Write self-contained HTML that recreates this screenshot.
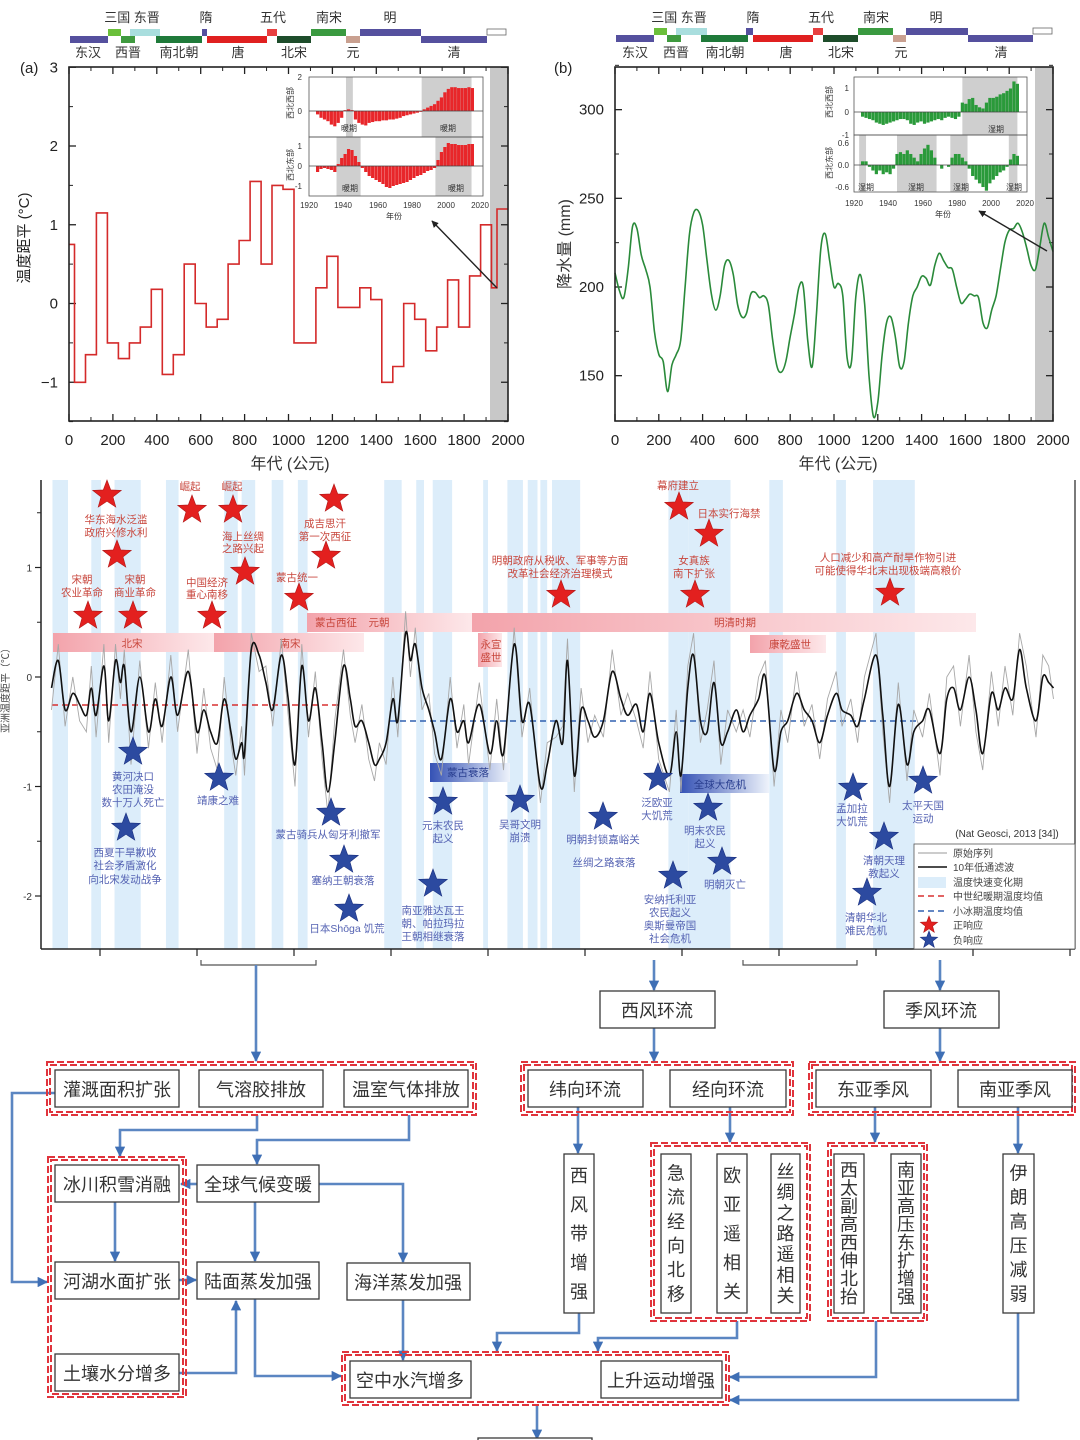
<!DOCTYPE html>
<html><head><meta charset="utf-8">
<style>
html,body{margin:0;padding:0;background:#fff;}
svg{display:block;font-family:"Liberation Sans","Noto Sans CJK SC",sans-serif;}
.tk{font-size:15px;fill:#222;}
.rl{font-size:10.5px;fill:#c8463c;}
.bl{font-size:10.5px;fill:#5563b3;}
.fb{fill:#fff;stroke:#3a3a3a;stroke-width:1.3;}
.ft{font-size:18px;fill:#333;}
.grp{fill:none;stroke:#e0343c;stroke-width:2;stroke-dasharray:7 3;}
.arr{fill:none;stroke:#5b86c2;stroke-width:2.6;}
</style></head>
<body>
<svg id="fig" width="1080" height="1440" viewBox="0 0 1080 1440">
<defs>
<marker id="ah" viewBox="0 0 10 10" refX="9" refY="5" markerWidth="4" markerHeight="4" orient="auto"><path d="M0,0 L10,5 L0,10 z" fill="#3f6fb5"/></marker>
<marker id="ak" viewBox="0 0 10 10" refX="9" refY="5" markerWidth="5" markerHeight="5" orient="auto"><path d="M0,0 L10,5 L0,10 z" fill="#222"/></marker>
<linearGradient id="pg" x1="0" x2="1"><stop offset="0" stop-color="#f3a3ab"/><stop offset="1" stop-color="#fde8ea"/></linearGradient>
<linearGradient id="bg" x1="0" x2="1"><stop offset="0" stop-color="#3552b5"/><stop offset="1" stop-color="#eef3fb"/></linearGradient>
</defs>

<!-- ===== Panel (a) ===== -->
<g id="panelA">
<g>
<rect x="70" y="36" width="38" height="7" fill="#55509e"/><rect x="108" y="29" width="13" height="7" fill="#6abf3a"/>
<rect x="121" y="36" width="14" height="7" fill="#3f9a3f"/><rect x="130" y="29" width="30" height="7" fill="#a9dede"/>
<rect x="156" y="36" width="46" height="7" fill="#1f7a3a"/><rect x="202" y="29" width="5" height="7" fill="#55509e"/>
<rect x="207" y="36" width="60" height="7" fill="#e02020"/><rect x="267" y="29" width="10" height="7" fill="#e84040"/>
<rect x="277" y="36" width="34" height="7" fill="#1e4d2b"/><rect x="311" y="29" width="35" height="7" fill="#3a9a40"/>
<rect x="346" y="36" width="14" height="7" fill="#c9a090"/><rect x="360" y="29" width="61" height="7" fill="#55509e"/>
<rect x="421" y="36" width="66" height="7" fill="#55509e"/><rect x="487" y="29" width="19" height="6" fill="#fff" stroke="#666" stroke-width="0.8"/>
<g font-size="13" fill="#333" text-anchor="middle">
<text x="132" y="22">三国 东晋</text><text x="206" y="22">隋</text><text x="273" y="22">五代</text><text x="329" y="22">南宋</text><text x="390" y="22">明</text>
<text x="88" y="57">东汉</text><text x="128" y="57">西晋</text><text x="179" y="57">南北朝</text><text x="238" y="57">唐</text><text x="294" y="57">北宋</text><text x="353" y="57">元</text><text x="454" y="57">清</text>
</g></g>
<text x="20" y="73" font-size="15" fill="#222">(a)</text>
<rect x="490" y="67" width="18" height="354" fill="#c8c8c8"/>
<g id="aTicks"></g>
<path id="aLine" fill="none" stroke="#d42a2a" stroke-width="1.6"/>
<rect x="69" y="67" width="439" height="354" fill="none" stroke="#222" stroke-width="1.6"/>
<text class="tk" x="0" y="0" transform="translate(29,238) rotate(-90)" text-anchor="middle" font-size="16">温度距平 (°C)</text>
<text x="290" y="469" font-size="16" fill="#333" text-anchor="middle">年代 (公元)</text>
<g id="insetA">
<rect x="309" y="77" width="174" height="119" fill="#fff"/>
<g id="iaBars"></g>
<rect x="309" y="77" width="174" height="60" fill="none" stroke="#555" stroke-width="0.8"/>
<rect x="309" y="137" width="174" height="59" fill="none" stroke="#555" stroke-width="0.8"/>
<g font-size="8" fill="#333">
<text x="302" y="80" text-anchor="end">2</text><text x="302" y="114" text-anchor="end">0</text>
<text x="302" y="149" text-anchor="end">1</text><text x="302" y="169" text-anchor="end">0</text><text x="302" y="189" text-anchor="end">-1</text>
<text x="309" y="208" text-anchor="middle">1920</text><text x="343" y="208" text-anchor="middle">1940</text><text x="378" y="208" text-anchor="middle">1960</text><text x="412" y="208" text-anchor="middle">1980</text><text x="446" y="208" text-anchor="middle">2000</text><text x="480" y="208" text-anchor="middle">2020</text>
<text x="394" y="219" text-anchor="middle">年份</text>
<text x="349" y="131" text-anchor="middle">暖期</text><text x="448" y="131" text-anchor="middle">暖期</text>
<text x="350" y="191" text-anchor="middle">暖期</text><text x="456" y="191" text-anchor="middle">暖期</text>
<text transform="translate(293,103) rotate(-90)" text-anchor="middle">西北西部</text>
<text transform="translate(293,165) rotate(-90)" text-anchor="middle">西北东部</text>
</g></g>
<line x1="497" y1="288" x2="432" y2="221" stroke="#222" stroke-width="1.4" marker-end="url(#ak)"/>
</g>

<!-- ===== Panel (b) ===== -->
<g id="panelB">
<g>
<rect x="616" y="35" width="38" height="7" fill="#55509e"/><rect x="654" y="28" width="13" height="7" fill="#6abf3a"/>
<rect x="667" y="35" width="14" height="7" fill="#3f9a3f"/><rect x="676" y="28" width="31" height="7" fill="#a9dede"/>
<rect x="701" y="35" width="47" height="7" fill="#1f7a3a"/><rect x="746" y="28" width="7" height="7" fill="#55509e"/>
<rect x="753" y="35" width="60" height="7" fill="#e02020"/><rect x="813" y="28" width="10" height="7" fill="#e84040"/>
<rect x="823" y="35" width="35" height="7" fill="#1e4d2b"/><rect x="858" y="28" width="35" height="7" fill="#3a9a40"/>
<rect x="893" y="35" width="13" height="7" fill="#c9a090"/><rect x="906" y="28" width="62" height="7" fill="#55509e"/>
<rect x="968" y="35" width="65" height="7" fill="#55509e"/><rect x="1033" y="28" width="19" height="6" fill="#fff" stroke="#666" stroke-width="0.8"/>
<g font-size="13" fill="#333" text-anchor="middle">
<text x="679" y="22">三国 东晋</text><text x="753" y="22">隋</text><text x="821" y="22">五代</text><text x="876" y="22">南宋</text><text x="936" y="22">明</text>
<text x="635" y="57">东汉</text><text x="676" y="57">西晋</text><text x="725" y="57">南北朝</text><text x="786" y="57">唐</text><text x="841" y="57">北宋</text><text x="901" y="57">元</text><text x="1001" y="57">清</text>
</g></g>
<text x="554" y="73" font-size="15" fill="#222">(b)</text>
<rect x="1035" y="67" width="18" height="354" fill="#c8c8c8"/>
<g id="bTicks"></g>
<path id="bLine" fill="none" stroke="#2a8a3a" stroke-width="1.6"/>
<rect x="615" y="67" width="438" height="354" fill="none" stroke="#222" stroke-width="1.6"/>
<text x="0" y="0" transform="translate(570,244) rotate(-90)" text-anchor="middle" font-size="16" fill="#333">降水量 (mm)</text>
<text x="838" y="469" font-size="16" fill="#333" text-anchor="middle">年代 (公元)</text>
<g id="insetB">
<rect x="854" y="77" width="173" height="115" fill="#fff"/>
<g id="ibBars"></g>
<rect x="854" y="77" width="173" height="58" fill="none" stroke="#555" stroke-width="0.8"/>
<rect x="854" y="135" width="173" height="57" fill="none" stroke="#555" stroke-width="0.8"/>
<g font-size="8" fill="#333">
<text x="849" y="91" text-anchor="end">1</text><text x="849" y="115" text-anchor="end">0</text><text x="849" y="138" text-anchor="end">-1</text>
<text x="849" y="146" text-anchor="end">0.6</text><text x="849" y="168" text-anchor="end">0.0</text><text x="849" y="190" text-anchor="end">-0.6</text>
<text x="854" y="206" text-anchor="middle">1920</text><text x="888" y="206" text-anchor="middle">1940</text><text x="923" y="206" text-anchor="middle">1960</text><text x="957" y="206" text-anchor="middle">1980</text><text x="991" y="206" text-anchor="middle">2000</text><text x="1025" y="206" text-anchor="middle">2020</text>
<text x="943" y="217" text-anchor="middle">年份</text>
<text x="996" y="132" text-anchor="middle">湿期</text>
<text x="866" y="190" text-anchor="middle">湿期</text><text x="916" y="190" text-anchor="middle">湿期</text><text x="961" y="190" text-anchor="middle">湿期</text><text x="1014" y="190" text-anchor="middle">湿期</text>
<text transform="translate(832,102) rotate(-90)" text-anchor="middle">西北西部</text>
<text transform="translate(832,163) rotate(-90)" text-anchor="middle">西北东部</text>
</g></g>
<line x1="1047" y1="251" x2="979" y2="211" stroke="#222" stroke-width="1.4" marker-end="url(#ak)"/>
</g>

<!-- ===== Middle panel ===== -->
<g id="panelC">
<g id="cBands"></g>
<g>
<rect x="53" y="633" width="161" height="19" fill="url(#pg)"/><text class="rl" x="132" y="647" text-anchor="middle">北宋</text>
<rect x="214" y="633" width="150" height="19" fill="url(#pg)"/><text class="rl" x="290" y="647" text-anchor="middle">南宋</text>
<rect x="307" y="613" width="165" height="19" fill="url(#pg)"/><text class="rl" x="336" y="626" text-anchor="middle">蒙古西征</text><text class="rl" x="379" y="626" text-anchor="middle">元朝</text>
<rect x="472" y="613" width="504" height="19" fill="url(#pg)"/><text class="rl" x="735" y="626" text-anchor="middle">明清时期</text>
<rect x="478" y="633" width="24" height="34" fill="url(#pg)"/><text class="rl" x="491" y="648" text-anchor="middle">永宣</text><text class="rl" x="491" y="661" text-anchor="middle">盛世</text>
<rect x="750" y="635" width="76" height="18" fill="url(#pg)"/><text class="rl" x="790" y="648" text-anchor="middle">康乾盛世</text>
<rect x="430" y="763" width="80" height="19" fill="url(#bg)"/><text x="468" y="776" font-size="10.5" fill="#2a3f90" text-anchor="middle">蒙古衰落</text>
<rect x="680" y="774" width="89" height="19" fill="url(#bg)"/><text x="720" y="788" font-size="10.5" fill="#2a3f90" text-anchor="middle">全球大危机</text>
</g>
<line x1="52" y1="705" x2="340" y2="705" stroke="#d83030" stroke-width="1.4" stroke-dasharray="6 4"/>
<line x1="390" y1="721" x2="916" y2="721" stroke="#3060b0" stroke-width="1.4" stroke-dasharray="6 4"/>
<path id="cRaw" fill="none" stroke="#a8a8a8" stroke-width="0.9"/>
<path id="cSmooth" fill="none" stroke="#111" stroke-width="1.6"/>
<g id="cAxes"></g>
<text x="0" y="0" transform="translate(9,688) rotate(-90)" font-size="10" fill="#444" text-anchor="middle">亚洲温度距平（℃）</text>
<g>
<text class="rl" x="116" y="523" text-anchor="middle">华东海水泛滥</text><text class="rl" x="116" y="536" text-anchor="middle">政府兴修水利</text>
<text class="rl" x="82" y="583" text-anchor="middle">宋朝</text><text class="rl" x="82" y="596" text-anchor="middle">农业革命</text>
<text class="rl" x="135" y="583" text-anchor="middle">宋朝</text><text class="rl" x="135" y="596" text-anchor="middle">商业革命</text>
<text class="rl" x="190" y="490" text-anchor="middle">崛起</text><text class="rl" x="232" y="490" text-anchor="middle">崛起</text>
<text class="rl" x="243" y="540" text-anchor="middle">海上丝绸</text><text class="rl" x="243" y="552" text-anchor="middle">之路兴起</text>
<text class="rl" x="207" y="586" text-anchor="middle">中国经济</text><text class="rl" x="207" y="598" text-anchor="middle">重心南移</text>
<text class="rl" x="325" y="527" text-anchor="middle">成吉思汗</text><text class="rl" x="325" y="540" text-anchor="middle">第一次西征</text>
<text class="rl" x="297" y="581" text-anchor="middle">蒙古统一</text>
<text class="rl" x="560" y="564" text-anchor="middle">明朝政府从税收、军事等方面</text><text class="rl" x="560" y="577" text-anchor="middle">改革社会经济治理模式</text>
<text class="rl" x="678" y="489" text-anchor="middle">幕府建立</text><text class="rl" x="729" y="517" text-anchor="middle">日本实行海禁</text>
<text class="rl" x="694" y="564" text-anchor="middle">女真族</text><text class="rl" x="694" y="577" text-anchor="middle">南下扩张</text>
<text class="rl" x="888" y="561" text-anchor="middle">人口减少和高产耐旱作物引进</text><text class="rl" x="888" y="574" text-anchor="middle">可能使得华北末出现极端高粮价</text>
</g>
<g>
<text class="bl" x="133" y="780" text-anchor="middle">黄河决口</text><text class="bl" x="133" y="793" text-anchor="middle">农田淹没</text><text class="bl" x="133" y="806" text-anchor="middle">数十万人死亡</text>
<text class="bl" x="125" y="856" text-anchor="middle">西夏干旱歉收</text><text class="bl" x="125" y="869" text-anchor="middle">社会矛盾激化</text><text class="bl" x="125" y="883" text-anchor="middle">向北宋发动战争</text>
<text class="bl" x="218" y="804" text-anchor="middle">靖康之难</text>
<text class="bl" x="328" y="838" text-anchor="middle">蒙古骑兵从匈牙利撤军</text>
<text class="bl" x="343" y="884" text-anchor="middle">塞纳王朝衰落</text>
<text class="bl" x="347" y="932" text-anchor="middle">日本Shōga 饥荒</text>
<text class="bl" x="443" y="829" text-anchor="middle">元末农民</text><text class="bl" x="443" y="842" text-anchor="middle">起义</text>
<text class="bl" x="433" y="914" text-anchor="middle">南亚雅达瓦王</text><text class="bl" x="433" y="927" text-anchor="middle">朝、帕拉玛拉</text><text class="bl" x="433" y="940" text-anchor="middle">王朝相继衰落</text>
<text class="bl" x="520" y="828" text-anchor="middle">吴哥文明</text><text class="bl" x="520" y="841" text-anchor="middle">崩溃</text>
<text class="bl" x="657" y="806" text-anchor="middle">泛欧亚</text><text class="bl" x="657" y="819" text-anchor="middle">大饥荒</text>
<text class="bl" x="603" y="843" text-anchor="middle">明朝封锁嘉峪关</text><text class="bl" x="604" y="866" text-anchor="middle">丝绸之路衰落</text>
<text class="bl" x="705" y="834" text-anchor="middle">明末农民</text><text class="bl" x="705" y="847" text-anchor="middle">起义</text>
<text class="bl" x="725" y="888" text-anchor="middle">明朝灭亡</text>
<text class="bl" x="670" y="903" text-anchor="middle">安纳托利亚</text><text class="bl" x="670" y="916" text-anchor="middle">农民起义</text><text class="bl" x="670" y="929" text-anchor="middle">奥斯曼帝国</text><text class="bl" x="670" y="942" text-anchor="middle">社会危机</text>
<text class="bl" x="852" y="812" text-anchor="middle">孟加拉</text><text class="bl" x="852" y="825" text-anchor="middle">大饥荒</text>
<text class="bl" x="884" y="864" text-anchor="middle">清朝天理</text><text class="bl" x="884" y="877" text-anchor="middle">教起义</text>
<text class="bl" x="866" y="921" text-anchor="middle">清朝华北</text><text class="bl" x="866" y="934" text-anchor="middle">难民危机</text>
<text class="bl" x="923" y="809" text-anchor="middle">太平天国</text><text class="bl" x="923" y="822" text-anchor="middle">运动</text>
</g>
<text x="1007" y="837" font-size="10" fill="#333" text-anchor="middle">(Nat Geosci, 2013 [34])</text>
<g>
<rect x="914" y="844" width="161" height="105" fill="#fff" stroke="#555" stroke-width="0.8"/>
<line x1="918" y1="853" x2="947" y2="853" stroke="#999" stroke-width="1"/><text x="953" y="857" font-size="10" fill="#444">原始序列</text>
<line x1="918" y1="867" x2="947" y2="867" stroke="#111" stroke-width="1.5"/><text x="953" y="871" font-size="10" fill="#444">10年低通滤波</text>
<rect x="918" y="877" width="28" height="11" fill="#dcedfa"/><text x="953" y="886" font-size="10" fill="#444">温度快速变化期</text>
<line x1="918" y1="896" x2="947" y2="896" stroke="#d83030" stroke-width="1.4" stroke-dasharray="6 4"/><text x="953" y="900" font-size="10" fill="#444">中世纪暖期温度均值</text>
<line x1="918" y1="911" x2="947" y2="911" stroke="#3060b0" stroke-width="1.4" stroke-dasharray="6 4"/><text x="953" y="915" font-size="10" fill="#444">小冰期温度均值</text>
<text x="953" y="929" font-size="10" fill="#444">正响应</text><text x="953" y="944" font-size="10" fill="#444">负响应</text>
</g>
<g id="stars"></g>
</g>

<!-- ===== Flowchart ===== -->
<g id="flow">
<path d="M201,960 V965 H316 V960" fill="none" stroke="#555" stroke-width="1.2"/>
<path d="M743,960 V965 H857 V960" fill="none" stroke="#555" stroke-width="1.2"/>
<g id="arrows">
<path class="arr" marker-end="url(#ah)" d="M256,965 V1061"/>
<path class="arr" marker-end="url(#ah)" d="M654,960 V990"/>
<path class="arr" marker-end="url(#ah)" d="M654,1028 V1061"/>
<path class="arr" marker-end="url(#ah)" d="M940,960 V990"/>
<path class="arr" marker-end="url(#ah)" d="M940,1028 V1061"/>
<path class="arr" marker-end="url(#ah)" d="M55,1093 H12 V1282 H47"/>
<path class="arr" marker-end="url(#ah)" d="M257,1115 V1130 H120 V1156"/>
<path class="arr" marker-end="url(#ah)" d="M409,1115 V1140 H257 V1164"/>
<path class="arr" marker-end="url(#ah)" d="M197,1184 H181"/>
<path class="arr" marker-end="url(#ah)" d="M319,1184 H403 V1262"/>
<path class="arr" marker-end="url(#ah)" d="M255,1202 V1261"/>
<path class="arr" marker-end="url(#ah)" d="M115,1202 V1261"/>
<path class="arr" marker-end="url(#ah)" d="M179,1280 H196"/>
<path class="arr" marker-end="url(#ah)" d="M179,1373 H236 V1301"/>
<path class="arr" marker-end="url(#ah)" d="M255,1299 V1376 H341"/>
<path class="arr" marker-end="url(#ah)" d="M403,1300 V1360"/>
<path class="arr" marker-end="url(#ah)" d="M578,1107 V1153"/>
<path class="arr" marker-end="url(#ah)" d="M730,1107 V1142"/>
<path class="arr" marker-end="url(#ah)" d="M875,1107 V1142"/>
<path class="arr" marker-end="url(#ah)" d="M1018,1107 V1153"/>
<path class="arr" marker-end="url(#ah)" d="M579,1313 V1333 H497 V1351"/>
<path class="arr" marker-end="url(#ah)" d="M737,1321 V1338 H598 V1351"/>
<path class="arr" marker-end="url(#ah)" d="M876,1321 V1377 H730"/>
<path class="arr" marker-end="url(#ah)" d="M1018,1313 V1400 H730"/>
<path class="arr" marker-end="url(#ah)" d="M537,1405 V1439"/>
</g>
<g>
<rect class="grp" x="47" y="1062" width="429" height="53"/><rect class="grp" x="50" y="1065" width="423" height="47"/>
<rect class="grp" x="521" y="1062" width="272" height="53"/><rect class="grp" x="524" y="1065" width="266" height="47"/>
<rect class="grp" x="809" y="1062" width="266" height="53"/><rect class="grp" x="812" y="1065" width="260" height="47"/>
<rect class="grp" x="48" y="1157" width="138" height="240"/><rect class="grp" x="51" y="1160" width="132" height="234"/>
<rect class="grp" x="651" y="1143" width="159" height="178"/><rect class="grp" x="654" y="1146" width="153" height="172"/>
<rect class="grp" x="828" y="1143" width="99" height="178"/><rect class="grp" x="831" y="1146" width="93" height="172"/>
<rect class="grp" x="342" y="1352" width="387" height="53"/><rect class="grp" x="345" y="1355" width="381" height="47"/>
</g>
<g>
<rect class="fb" x="600" y="991" width="115" height="37"/><text class="ft" x="657" y="1017" text-anchor="middle">西风环流</text>
<rect class="fb" x="884" y="991" width="115" height="37"/><text class="ft" x="941" y="1017" text-anchor="middle">季风环流</text>
<rect class="fb" x="55" y="1070" width="124" height="37"/><text class="ft" x="117" y="1096" text-anchor="middle">灌溉面积扩张</text>
<rect class="fb" x="199" y="1070" width="124" height="37"/><text class="ft" x="261" y="1096" text-anchor="middle">气溶胶排放</text>
<rect class="fb" x="344" y="1070" width="124" height="37"/><text class="ft" x="406" y="1096" text-anchor="middle">温室气体排放</text>
<rect class="fb" x="528" y="1070" width="115" height="37"/><text class="ft" x="585" y="1096" text-anchor="middle">纬向环流</text>
<rect class="fb" x="670" y="1070" width="116" height="37"/><text class="ft" x="728" y="1096" text-anchor="middle">经向环流</text>
<rect class="fb" x="816" y="1070" width="115" height="37"/><text class="ft" x="873" y="1096" text-anchor="middle">东亚季风</text>
<rect class="fb" x="958" y="1070" width="114" height="37"/><text class="ft" x="1015" y="1096" text-anchor="middle">南亚季风</text>
<rect class="fb" x="55" y="1165" width="124" height="37"/><text class="ft" x="117" y="1191" text-anchor="middle">冰川积雪消融</text>
<rect class="fb" x="197" y="1165" width="122" height="37"/><text class="ft" x="258" y="1191" text-anchor="middle">全球气候变暖</text>
<rect class="fb" x="55" y="1262" width="124" height="37"/><text class="ft" x="117" y="1288" text-anchor="middle">河湖水面扩张</text>
<rect class="fb" x="197" y="1262" width="122" height="37"/><text class="ft" x="258" y="1288" text-anchor="middle">陆面蒸发加强</text>
<rect class="fb" x="347" y="1263" width="123" height="37"/><text class="ft" x="408" y="1289" text-anchor="middle">海洋蒸发加强</text>
<rect class="fb" x="55" y="1354" width="124" height="37"/><text class="ft" x="117" y="1380" text-anchor="middle">土壤水分增多</text>
<rect class="fb" x="350" y="1361" width="121" height="37"/><text class="ft" x="410" y="1387" text-anchor="middle">空中水汽增多</text>
<rect class="fb" x="601" y="1361" width="121" height="37"/><text class="ft" x="661" y="1387" text-anchor="middle">上升运动增强</text>
<rect class="fb" x="478" y="1438" width="114" height="10"/>
</g>
<g id="vboxes"></g>
</g>
</svg>

<script>
// ---------- Data ----------
const aStepStarts = [0,25,75,125,175,225,275,325,375,425,475,525,575,625,675,725,775,825,875,925,975,1025,1125,1175,1225,1325,1375,1425,1475,1525,1575,1625,1675,1725,1775,1825,1875,1925,1950];
const aStepValues = [0.75,-1.0,-0.65,1.15,-0.5,-0.7,-0.5,-0.3,0.18,-0.9,-0.65,0.5,0,-0.3,-0.2,0.5,0.8,1.55,0.5,1.5,1.45,-0.5,0.2,0.6,-0.05,0.2,0.05,-1.0,-0.8,0,-0.2,-0.6,-0.3,0.3,-0.3,0.35,1.0,0.2,1.2];
const aXTicks = [0,200,400,600,800,1000,1200,1400,1600,1800,2000];
const aYTicks = [-1,0,1,2,3];

const bYears = [0,20,40,60,80,100,120,140,160,180,200,220,240,260,280,300,320,340,360,380,400,420,440,460,480,500,520,540,560,580,600,620,640,660,680,700,720,740,760,780,800,820,840,860,880,900,920,940,960,980,1000,1020,1040,1060,1080,1100,1120,1140,1160,1180,1200,1220,1240,1260,1280,1300,1320,1340,1360,1380,1400,1420,1440,1460,1480,1500,1520,1540,1560,1580,1600,1620,1640,1660,1680,1700,1720,1740,1760,1780,1800,1820,1840,1860,1880,1900,1920,1940,1960,1980,2000];
const bPrecip = [208,198,194,210,234,233,218,210,200,175,162,158,141,156,162,170,200,230,242,243,235,215,196,187,195,212,215,207,190,183,185,196,197,194,195,190,170,155,152,158,172,185,200,200,170,155,185,222,230,215,200,202,195,160,158,195,207,190,150,127,135,162,180,183,172,155,158,180,195,200,206,205,201,212,219,215,211,210,200,191,193,196,195,194,180,177,187,195,210,225,232,233,236,231,222,212,210,223,236,228,220];
const bYTicks = [150,200,250,300];
const bXTicks = [0,200,400,600,800,1000,1200,1400,1600,1800,2000];

const insetYears = [1925,1927,1929,1931,1933,1935,1937,1939,1941,1943,1945,1947,1949,1951,1953,1955,1957,1959,1961,1963,1965,1967,1969,1971,1973,1975,1977,1979,1981,1983,1985,1987,1989,1991,1993,1995,1997,1999,2001,2003,2005,2007,2009,2011,2013,2015];
const insetTempWest = [-0.2,-0.4,-0.5,-0.6,-0.8,-0.9,-0.7,-0.4,0.05,0.1,0.05,-0.5,-0.7,-0.8,-0.85,-0.7,-0.65,-0.6,-0.6,-0.55,-0.55,-0.5,-0.5,-0.45,-0.4,-0.3,-0.25,-0.2,-0.15,-0.1,-0.05,0.1,0.2,0.3,0.4,0.6,0.8,1.1,1.3,1.4,1.4,1.35,1.35,1.35,1.4,1.35];
const insetTempEast = [-0.3,-0.15,-0.1,-0.15,-0.2,-0.3,0.1,0.4,0.6,0.85,0.8,0.5,0.2,-0.1,-0.3,-0.5,-0.6,-0.7,-0.8,-0.9,-1.05,-1.1,-1.0,-0.95,-0.9,-0.85,-0.8,-0.7,-0.6,-0.5,-0.45,-0.35,-0.25,-0.2,-0.1,0.3,0.7,0.95,1.15,1.1,1.1,1.05,1.05,1.05,1.1,1.1];
const insetPrecipWest = [-0.2,-0.25,-0.3,-0.35,-0.45,-0.5,-0.55,-0.5,-0.45,-0.4,-0.35,-0.3,-0.3,-0.35,-0.5,-0.55,-0.45,-0.4,-0.5,-0.45,-0.4,-0.35,-0.3,-0.35,-0.25,-0.2,-0.25,-0.3,-0.2,0.4,0.35,0.55,0.6,0.3,0.2,0.15,0.4,0.6,0.6,0.65,0.75,0.8,0.9,1.0,1.3,1.2];
const insetPrecipEast = [0.1,0.1,-0.05,-0.15,-0.25,-0.15,-0.25,-0.2,-0.25,-0.1,0.3,0.35,0.3,0.4,0.3,0.2,0.1,0.3,0.45,0.55,0.4,0.2,0.0,-0.1,0.0,-0.05,0.2,0.3,0.3,0.2,0.1,-0.1,-0.3,-0.4,-0.5,-0.6,-0.7,-0.5,-0.4,-0.3,-0.2,-0.15,-0.05,0.15,0.3,0.25];

const cYears = [950,957,964,972,979,986,991,996,1004,1009,1016,1021,1025,1032,1041,1050,1057,1064,1073,1080,1091,1100,1107,1114,1121,1128,1135,1140,1146,1149,1156,1164,1171,1178,1187,1194,1201,1208,1215,1222,1229,1235,1242,1251,1258,1263,1270,1277,1283,1288,1295,1302,1307,1315,1320,1325,1332,1339,1345,1352,1361,1368,1375,1380,1391,1402,1409,1416,1427,1435,1443,1454,1461,1470,1477,1482,1489,1496,1503,1510,1519,1528,1537,1544,1553,1560,1567,1576,1587,1594,1599,1606,1612,1619,1626,1633,1640,1647,1656,1663,1670,1679,1686,1695,1702,1709,1718,1726,1734,1742,1750,1759,1765,1774,1781,1788,1800,1807,1814,1823,1832,1839,1848,1855,1866,1873,1880,1887,1896,1903,1910,1919,1926,1933,1941,1948,1955,1965,1972,1978,1983];
const cSmooth = [-0.1,0.15,-0.3,-0.15,-0.25,-0.35,-0.1,-0.35,0.1,-0.4,0.15,-0.05,0.1,-0.5,0,-0.5,-0.2,-0.45,0,-0.35,0.05,-0.5,-0.3,-0.5,-0.6,-0.2,-0.5,-0.75,-0.6,-0.7,0.25,0.2,-0.05,-0.3,0.2,-0.2,-0.8,0.1,-0.4,-0.1,-0.6,-1.05,-0.6,0.1,-0.2,-0.45,-0.4,-0.6,-0.8,-0.75,-0.6,-0.2,-0.4,0.4,0.15,0.3,-0.1,-0.3,-0.5,-0.75,-0.2,-0.5,-0.4,-0.6,-0.25,-0.7,-0.4,-0.7,0.3,-0.4,-0.25,-1.0,-0.8,-0.4,-0.6,0.15,-0.9,-0.3,-0.4,-0.55,-0.4,0.05,-0.2,-0.35,-0.25,-0.5,-0.15,-0.6,-0.9,-0.5,-0.9,-0.1,0.2,-0.4,-0.5,-0.05,-0.6,-0.5,-0.3,-0.5,-0.35,-0.2,0.0,-0.85,-0.5,-0.4,-0.15,-0.3,-0.4,-0.6,-0.35,-0.15,-0.3,-0.35,-0.45,-0.2,0.2,-0.35,-1.0,-0.25,-0.8,-0.5,-0.4,-0.3,-0.7,-0.2,-0.1,-0.3,0.0,-0.3,-0.7,-0.15,-0.3,-0.1,-0.2,0.25,-0.1,-0.4,0.0,-0.05,-0.1];
const cRaw = [-0.3,0.3,-0.45,0.0,-0.4,-0.5,0.1,-0.55,0.3,-0.6,0.3,-0.2,0.25,-0.8,0.15,-0.65,-0.05,-0.6,0.2,-0.5,0.25,-0.7,-0.1,-0.65,-0.85,0.0,-0.6,-0.9,-0.45,-0.9,0.4,0.05,0.1,-0.45,0.35,-0.35,-1.0,0.3,-0.55,0.05,-0.75,-1.25,-0.4,0.25,-0.35,-0.6,-0.25,-0.75,-0.95,-0.6,-0.8,0.0,-0.55,0.6,0.0,0.45,-0.3,-0.15,-0.7,-0.9,0.0,-0.65,-0.25,-0.8,-0.05,-0.85,-0.2,-0.85,0.45,-0.55,-0.1,-1.15,-0.6,-0.55,-0.45,0.35,-1.05,-0.1,-0.6,-0.35,-0.55,0.25,-0.35,-0.15,-0.4,-0.65,0.05,-0.75,-1.05,-0.3,-1.05,0.1,0.4,-0.6,-0.3,0.15,-0.8,-0.3,-0.5,-0.3,-0.55,0.0,0.15,-1.0,-0.3,-0.6,0.05,-0.45,-0.25,-0.75,-0.2,0.05,-0.45,-0.2,-0.6,0.0,0.4,-0.5,-1.15,-0.05,-0.95,-0.3,-0.55,-0.15,-0.9,0.0,0.1,-0.45,0.2,-0.5,-0.85,0.05,-0.45,0.1,-0.35,0.4,0.1,-0.55,0.2,0.1,-0.2];
const cYTicks = [-2,-1,0,1];
const cXTicks = [1000,1100,1200,1300,1400,1500,1600,1700,1800,1900,2000];
const cBandStarts = [951,991,1015,1068,1128,1146,1177,1204,1293,1326,1343,1395,1420,1441,1454,1466,1586,1607,1690,1759,1797];
const cBandEnds   = [967,1001,1042,1081,1142,1160,1189,1214,1311,1334,1363,1400,1436,1451,1461,1495,1607,1650,1704,1769,1840];

// ---------- Helpers ----------
const NS='http://www.w3.org/2000/svg';
function mk(tag, attrs, parent){const e=document.createElementNS(NS,tag);for(const k in attrs)e.setAttribute(k,attrs[k]);parent.appendChild(e);return e;}
function smoothPath(pts){let d='M'+pts[0][0]+','+pts[0][1];for(let i=0;i<pts.length-1;i++){const p0=pts[i-1]||pts[i],p1=pts[i],p2=pts[i+1],p3=pts[i+2]||p2;const c1x=p1[0]+(p2[0]-p0[0])/6,c1y=p1[1]+(p2[1]-p0[1])/6,c2x=p2[0]-(p3[0]-p1[0])/6,c2y=p2[1]-(p3[1]-p1[1])/6;d+=' C'+c1x.toFixed(1)+','+c1y.toFixed(1)+' '+c2x.toFixed(1)+','+c2y.toFixed(1)+' '+p2[0].toFixed(1)+','+p2[1].toFixed(1);}return d;}
function starPts(cx,cy,r){let s=[];for(let i=0;i<10;i++){const a=-Math.PI/2+i*Math.PI/5;const rr=i%2?r*0.42:r;s.push((cx+rr*Math.cos(a)).toFixed(1)+','+(cy+rr*Math.sin(a)).toFixed(1));}return s.join(' ');}

// ---------- Panel a ----------
const ax=y=>69+y*0.2195, ay=v=>303.5-v*78.75;
(function(){
  const g=document.getElementById('aTicks');
  aXTicks.forEach((t,i)=>{
    const x=ax(t);
    const l1=mk('line',{x1:x,y1:421,x2:x,y2:414,stroke:'#222','stroke-width':1.3},g);
    
    
    mk('line',{x1:x,y1:67,x2:x,y2:74,stroke:'#222','stroke-width':1.3},g);
    if(i<aXTicks.length-1){const xm=ax(t+100);mk('line',{x1:xm,y1:421,x2:xm,y2:417,stroke:'#222'},g);mk('line',{x1:xm,y1:67,x2:xm,y2:71,stroke:'#222'},g);}
    const tx=mk('text',{x:x,y:445,'text-anchor':'middle',class:'tk'},g);tx.textContent=t;
    
    
  });
  aYTicks.forEach(t=>{
    const y=ay(t);
    mk('line',{x1:69,y1:y,x2:76,y2:y,stroke:'#222','stroke-width':1.3},g);
    mk('line',{x1:508,y1:y,x2:501,y2:y,stroke:'#222','stroke-width':1.3},g);
    const ym=ay(t-0.5);mk('line',{x1:69,y1:ym,x2:73,y2:ym,stroke:'#222'},g);mk('line',{x1:508,y1:ym,x2:504,y2:ym,stroke:'#222'},g);
    const tx=mk('text',{x:58,y:y+5,'text-anchor':'end',class:'tk'},g);tx.textContent=t===-1?'−1':t;
    
    
  });
  let d='';
  aStepStarts.forEach((s,i)=>{const e=i<aStepStarts.length-1?aStepStarts[i+1]:2000;const y=ay(aStepValues[i]);d+=(i?' L':'M')+ax(s).toFixed(1)+','+y.toFixed(1)+' L'+ax(e).toFixed(1)+','+y.toFixed(1);});
  document.getElementById('aLine').setAttribute('d',d);
  const ig=document.getElementById('iaBars');
  const ix=y=>309+(y-1920)*1.72, iy1=v=>111-v*17, iy2=v=>166-v*20;
  [[1941.5,1945.5,77,137],[1985.5,2014.5,77,137],[1936,1950,137,196],[1993.5,2014.5,137,196]].forEach(b=>mk('rect',{x:ix(b[0]),y:b[2],width:ix(b[1])-ix(b[0]),height:b[3]-b[2],fill:'#cfcfcf'},ig));
  insetYears.forEach((yr,i)=>{
    const x=ix(yr)-1.6;
    const v1=insetTempWest[i];const r1=mk('rect',{x:x,y:Math.min(iy1(v1),iy1(0)),width:3.2,height:Math.abs(iy1(v1)-iy1(0)),fill:'#e8262a'},ig);
    
    
    const v2=insetTempEast[i];const r2=mk('rect',{x:x,y:Math.min(iy2(v2),iy2(0)),width:3.2,height:Math.abs(iy2(v2)-iy2(0)),fill:'#e8262a'},ig);
    
    
  });
  mk('line',{x1:309,y1:iy1(0),x2:483,y2:iy1(0),stroke:'#444','stroke-width':0.8},ig);
  mk('line',{x1:309,y1:iy2(0),x2:483,y2:iy2(0),stroke:'#444','stroke-width':0.8},ig);
})();

// ---------- Panel b ----------
const bx=y=>615+y*0.219, by=v=>287-(v-200)*1.7734;
(function(){
  const g=document.getElementById('bTicks');
  bXTicks.forEach((t,i)=>{
    const x=bx(t);
    mk('line',{x1:x,y1:421,x2:x,y2:414,stroke:'#222','stroke-width':1.3},g);
    mk('line',{x1:x,y1:67,x2:x,y2:74,stroke:'#222','stroke-width':1.3},g);
    if(i<bXTicks.length-1){const xm=bx(t+100);mk('line',{x1:xm,y1:421,x2:xm,y2:417,stroke:'#222'},g);mk('line',{x1:xm,y1:67,x2:xm,y2:71,stroke:'#222'},g);}
    const tx=mk('text',{x:x,y:445,'text-anchor':'middle',class:'tk'},g);tx.textContent=t;
    
    
  });
  bYTicks.forEach(t=>{
    const y=by(t);
    mk('line',{x1:615,y1:y,x2:622,y2:y,stroke:'#222','stroke-width':1.3},g);
    mk('line',{x1:1053,y1:y,x2:1046,y2:y,stroke:'#222','stroke-width':1.3},g);
    const ym=by(t+25);mk('line',{x1:615,y1:ym,x2:619,y2:ym,stroke:'#222'},g);mk('line',{x1:1053,y1:ym,x2:1049,y2:ym,stroke:'#222'},g);
    const tx=mk('text',{x:604,y:y+5,'text-anchor':'end',class:'tk'},g);tx.textContent=t;
    
    
  });
  const pts=bYears.map((yr,i)=>[bx(yr),by(bPrecip[i])]);
  document.getElementById('bLine').setAttribute('d',smoothPath(pts));
  const ig=document.getElementById('ibBars');
  const ix=y=>854+(y-1920)*1.72, iy1=v=>112-v*23.5, iy2=v=>165-v*36.7;
  [[1983,2015,77,135],[1923,1927,135,192],[1945,1968,135,192],[1976,1986,135,192],[2010,2015,135,192]].forEach(b=>mk('rect',{x:ix(b[0]),y:b[2],width:ix(b[1])-ix(b[0]),height:b[3]-b[2],fill:'#cfcfcf'},ig));
  insetYears.forEach((yr,i)=>{
    const x=ix(yr)-1.6;
    const v1=insetPrecipWest[i];const r1=mk('rect',{x:x,y:Math.min(iy1(v1),iy1(0)),width:3.2,height:Math.abs(iy1(v1)-iy1(0)),fill:'#2a9a3a'},ig);
    
    
    const v2=insetPrecipEast[i];const r2=mk('rect',{x:x,y:Math.min(iy2(v2),iy2(0)),width:3.2,height:Math.abs(iy2(v2)-iy2(0)),fill:'#2a9a3a'},ig);
    
    
  });
  mk('line',{x1:854,y1:iy1(0),x2:1027,y2:iy1(0),stroke:'#444','stroke-width':0.8},ig);
  mk('line',{x1:854,y1:iy2(0),x2:1027,y2:iy2(0),stroke:'#444','stroke-width':0.8},ig);
})();

// ---------- Middle panel ----------
const mx=y=>100+(y-1000)*0.97, my=v=>677-v*109.5;
(function(){
  const bg=document.getElementById('cBands');
  cBandStarts.forEach((s,i)=>{
    const r=mk('rect',{x:mx(s),y:480,width:mx(cBandEnds[i])-mx(s),height:469,fill:'#dcedfa'},bg);
    
    
  });
  const rawPts=cYears.map((y,i)=>mx(y).toFixed(1)+','+my(cRaw[i]).toFixed(1));
  document.getElementById('cRaw').setAttribute('d','M'+rawPts.join(' L'));
  const sm=cYears.map((y,i)=>[mx(y),my(cSmooth[i])]);
  document.getElementById('cSmooth').setAttribute('d',smoothPath(sm));
  const g=document.getElementById('cAxes');
  mk('line',{x1:41,y1:480,x2:41,y2:949,stroke:'#222','stroke-width':1.5},g);
  mk('line',{x1:41,y1:949,x2:1075,y2:949,stroke:'#222','stroke-width':1.5},g);
  mk('line',{x1:1075,y1:480,x2:1075,y2:949,stroke:'#222','stroke-width':1.2},g);
  cYTicks.forEach(t=>{
    const y=my(t);
    mk('line',{x1:35,y1:y,x2:41,y2:y,stroke:'#222','stroke-width':1.2},g);
    mk('line',{x1:37,y1:my(t+0.5),x2:41,y2:my(t+0.5),stroke:'#222'},g);
    const tx=mk('text',{x:32,y:y+4,'text-anchor':'end','font-size':10,fill:'#333'},g);tx.textContent=t;
    
    
  });
  cXTicks.forEach(t=>{
    const l=mk('line',{x1:mx(t),y1:949,x2:mx(t),y2:956,stroke:'#222','stroke-width':1.2},g);
    
    
  });
  const sg=document.getElementById('stars');
  const red=[[107,495],[117,555],[88,616],[133,616],[192,510],[233,510],[245,572],[212,616],[334,499],[326,556],[299,598],[561,595],[679,507],[709,534],[695,595],[890,593],[929,925]];
  const blue=[[133,752],[126,828],[219,778],[331,813],[344,860],[349,909],[443,802],[433,884],[520,800],[658,778],[603,817],[708,808],[722,862],[673,876],[853,788],[884,837],[867,893],[923,781],[929,940]];
  red.forEach((p,i)=>{
    const r=i===red.length-1?9:15;
    const s=mk('polygon',{points:starPts(p[0],p[1],r),fill:'#e3201f',stroke:'#b01818','stroke-width':0.6},sg);
    
    
  });
  blue.forEach((p,i)=>{
    const r=i===blue.length-1?9:15;
    const s=mk('polygon',{points:starPts(p[0],p[1],r),fill:'#2c4aa0',stroke:'#1a3080','stroke-width':0.6},sg);
    
    
  });
})();

// ---------- Vertical flow boxes ----------
(function(){
  const vg=document.getElementById('vboxes');
  const boxes=[[564,1154,30,159,'西风带增强'],[661,1154,30,159,'急流经向北移'],[717,1154,30,159,'欧亚遥相关'],[771,1154,29,159,'丝绸之路遥相关'],[834,1154,30,159,'西太副高西伸北抬'],[891,1154,30,159,'南亚高压东扩增强'],[1003,1154,31,159,'伊朗高压减弱']];
  boxes.forEach(b=>{
    const r=mk('rect',{x:b[0],y:b[1],width:b[2],height:b[3],class:'fb'},vg);
    
    
    const chars=[...b[4]];const n=chars.length;const step=(b[3]-14)/n;
    const fs=Math.min(18,step*0.95);
    const t=mk('text',{class:'ft','text-anchor':'middle','font-size':fs.toFixed(1)},vg);
    
    
    chars.forEach((c,i)=>{const ts=mk('tspan',{x:b[0]+b[2]/2,y:(b[1]+7+step*(i+0.5)+fs*0.36).toFixed(1)},t);ts.textContent=c;});
  });
})();
</script>
</body></html>
